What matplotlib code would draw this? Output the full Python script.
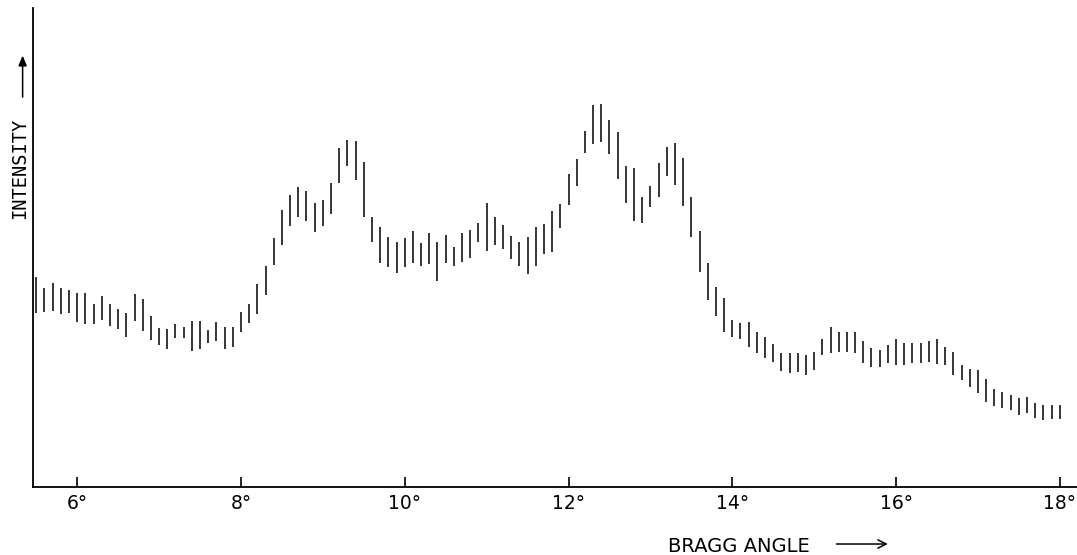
import matplotlib
matplotlib.use('Agg')
import matplotlib.pyplot as plt
from matplotlib import font_manager as fm

# Bragg angle (degrees) of every reading, and the low/high end of each bar
angle = [5.5, 5.6, 5.7, 5.8, 5.9, 6.0, 6.1, 6.2, 6.3, 6.4,
         6.5, 6.6, 6.7, 6.8, 6.9, 7.0, 7.1, 7.2, 7.3, 7.4,
         7.5, 7.6, 7.7, 7.8, 7.9, 8.0, 8.1, 8.2, 8.3, 8.4,
         8.5, 8.6, 8.7, 8.8, 8.9, 9.0, 9.1, 9.2, 9.3, 9.4,
         9.5, 9.6, 9.7, 9.8, 9.9, 10.0, 10.1, 10.2, 10.3, 10.4,
         10.5, 10.6, 10.7, 10.8, 10.9, 11.0, 11.1, 11.2, 11.3, 11.4,
         11.5, 11.6, 11.7, 11.8, 11.9, 12.0, 12.1, 12.2, 12.3, 12.4,
         12.5, 12.6, 12.7, 12.8, 12.9, 13.0, 13.1, 13.2, 13.3, 13.4,
         13.5, 13.6, 13.7, 13.8, 13.9, 14.0, 14.1, 14.2, 14.3, 14.4,
         14.5, 14.6, 14.7, 14.8, 14.9, 15.0, 15.1, 15.2, 15.3, 15.4,
         15.5, 15.6, 15.7, 15.8, 15.9, 16.0, 16.1, 16.2, 16.3, 16.4,
         16.5, 16.6, 16.7, 16.8, 16.9, 17.0, 17.1, 17.2, 17.3, 17.4,
         17.5, 17.6, 17.7, 17.8, 17.9, 18.0]

low = [174, 175, 176, 173, 174, 165, 163, 163, 167, 161,
       158, 150, 166, 156, 147, 142, 138, 149, 149, 136,
       138, 144, 146, 138, 140, 155, 164, 173, 192, 222,
       242, 261, 270, 266, 255, 261, 273, 304, 321, 307,
       270, 245, 224, 220, 214, 220, 224, 221, 223, 206,
       224, 221, 225, 229, 245, 236, 242, 238, 228, 221,
       213, 221, 233, 235, 259, 282, 301, 334, 343, 345,
       333, 308, 284, 266, 264, 280, 290, 311, 302, 281,
       250, 215, 187, 171, 155, 150, 148, 140, 134, 129,
       125, 116, 114, 115, 112, 117, 132, 134, 135, 135,
       134, 124, 120, 120, 124, 122, 122, 124, 124, 125,
       123, 122, 112, 107, 100, 94, 85, 81, 79, 77,
       72, 74, 69, 67, 68, 68]

high = [210, 199, 204, 199, 197, 194, 194, 183, 191, 183,
        178, 174, 193, 188, 171, 159, 158, 163, 160, 166,
        166, 157, 165, 160, 160, 175, 183, 203, 221, 249,
        277, 292, 300, 296, 284, 287, 304, 339, 347, 346,
        325, 270, 260, 250, 245, 249, 256, 244, 254, 245,
        252, 240, 254, 257, 264, 284, 270, 262, 251, 245,
        250, 260, 263, 276, 283, 313, 328, 356, 382, 383,
        367, 355, 321, 319, 290, 301, 324, 340, 344, 329,
        290, 256, 224, 200, 189, 167, 164, 165, 155, 150,
        143, 134, 134, 134, 132, 135, 148, 160, 155, 155,
        155, 146, 139, 137, 142, 148, 144, 144, 144, 146,
        148, 140, 135, 122, 118, 117, 108, 98, 95, 92,
        89, 90, 84, 82, 82, 82]

tick_deg = [6, 8, 10, 12, 14, 16, 18]
tick_txt = ['6°', '8°', '10°', '12°', '14°', '16°', '18°']


def pick(names):
    for n in names:
        try:
            fm.findfont(fm.FontProperties(family=n), fallback_to_default=False)
            return n
        except ValueError:
            pass
    return 'DejaVu Sans'


narrow = pick(['Liberation Sans Narrow', 'DejaVu Sans Condensed', 'DejaVu Sans'])

fig = plt.figure(figsize=(10.77, 5.55), dpi=100)
ax = fig.add_axes([33 / 1077, 68 / 555, 1044 / 1077, 479 / 555])

ax.vlines(angle, low, high, color='black', linewidth=1.1)

ax.set_xlim(5.46, 18.21)
ax.set_ylim(0, 479)
ax.spines['top'].set_visible(False)
ax.spines['right'].set_visible(False)
ax.spines['left'].set_linewidth(1.3)
ax.spines['bottom'].set_linewidth(1.3)
ax.set_yticks([])
ax.set_xticks(tick_deg)
ax.set_xticklabels(tick_txt, fontsize=13.5, family=narrow)
ax.tick_params(axis='x', direction='in', length=7, width=1.2, pad=5)

fig.text(0.0186, 0.696, 'INTENSITY', rotation=90, ha='center', va='center',
         family='DejaVu Sans Mono', fontsize=13.5)
fig.add_artist(matplotlib.patches.FancyArrowPatch(
    (0.021, 0.82), (0.021, 0.905), transform=fig.transFigure,
    arrowstyle='-|>,head_length=6,head_width=2.5', color='black', lw=1.1))

fig.text(0.6857, 0.0162, 'BRAGG ANGLE', ha='center', va='center',
         family=narrow, fontsize=14)
fig.add_artist(matplotlib.patches.FancyArrowPatch(
    (0.774, 0.0198), (0.827, 0.0198), transform=fig.transFigure,
    arrowstyle='->,head_length=6,head_width=3', color='black', lw=1.1))

fig.savefig('out.png', dpi=100)
